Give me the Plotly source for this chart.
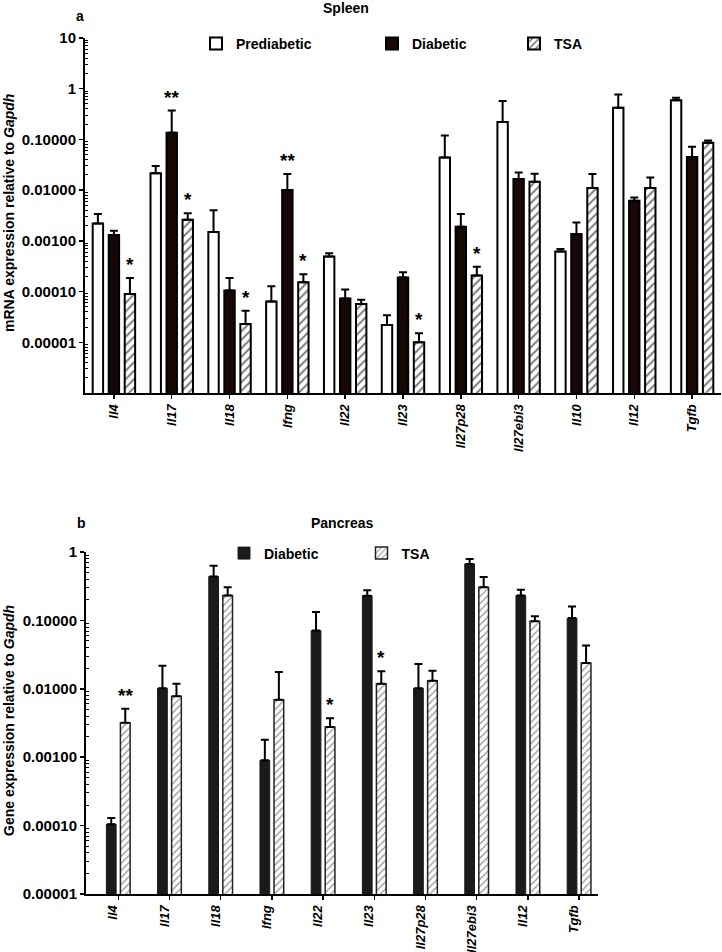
import math
import plotly.graph_objects as go

# ---------------- data ----------------
spleen_genes = ["Il4", "Il17", "Il18", "Ifng", "Il22", "Il23", "Il27p28", "Il27ebi3", "Il10", "Il12", "Tgfb"]
spleen_prediabetic = [0.0022, 0.0216, 0.0015, 6.4e-5, 4.9e-4, 2.2e-5, 0.044, 0.22, 6.2e-4, 0.42, 0.59]
spleen_prediabetic_sem = [0.0012, 0.0084, 0.0025, 6.3e-5, 8e-5, 1.2e-5, 0.076, 0.35, 7e-5, 0.35, 0.07]
spleen_diabetic = [0.0013, 0.135, 1.05e-4, 0.0101, 7.3e-5, 1.9e-4, 0.0019, 0.0165, 0.00136, 0.0062, 0.045]
spleen_diabetic_sem = [0.00028, 0.235, 8.1e-5, 0.0106, 3.7e-5, 5e-5, 0.0015, 0.0059, 0.00094, 0.001, 0.027]
spleen_tsa = [9.0e-5, 0.0026, 2.3e-5, 1.52e-4, 5.7e-5, 1.0e-5, 2.07e-4, 0.0146, 0.011, 0.011, 0.086]
spleen_tsa_sem = [9.6e-5, 0.0009, 1.9e-5, 6.8e-5, 1.2e-5, 5e-6, 1.03e-4, 0.0064, 0.0097, 0.0068, 0.009]
spleen_diabetic_sig = ["", "**", "", "**", "", "", "", "", "", "", ""]
spleen_tsa_sig = ["*", "*", "*", "*", "", "*", "*", "", "", "", ""]

pancreas_genes = ["Il4", "Il17", "Il18", "Ifng", "Il22", "Il23", "Il27p28", "Il27ebi3", "Il12", "Tgfb"]
pancreas_diabetic = [1.05e-4, 0.0102, 0.44, 9.0e-4, 0.071, 0.23, 0.0102, 0.67, 0.232, 0.108]
pancreas_diabetic_sem = [2.4e-5, 0.0116, 0.19, 9e-4, 0.062, 0.045, 0.0128, 0.12, 0.048, 0.052]
pancreas_tsa = [0.0032, 0.0078, 0.232, 0.0069, 0.00276, 0.0119, 0.0131, 0.304, 0.097, 0.0238]
pancreas_tsa_sem = [0.0019, 0.0041, 0.072, 0.0107, 0.00094, 0.0061, 0.0053, 0.126, 0.018, 0.0192]
pancreas_tsa_sig = ["**", "", "", "", "*", "*", "", "", "", ""]

spleen_ticks = [10, 1, 0.1, 0.01, 0.001, 0.0001, 0.00001]
spleen_ticktext = ["10", "1", "0.10000", "0.01000", "0.00100", "0.00010", "0.00001"]
pancreas_ticks = [1, 0.1, 0.01, 0.001, 0.0001, 0.00001]
pancreas_ticktext = ["1", "0.10000", "0.01000", "0.00100", "0.00010", "0.00001"]

# ---------------- figure ----------------
W, H = 722, 952
FONT = "Liberation Sans, Arial, Helvetica, sans-serif"

def px_x(p):
    return p / W

def px_y(p):
    return 1 - p / H

fig = go.Figure()

bw1 = 0.18
step1 = 0.277
hatch_top = dict(shape="/", fgcolor="black", bgcolor="white", size=6, solidity=0.35)
hatch_bot = dict(shape="/", fgcolor="#333333", bgcolor="white", size=5, solidity=0.28)


def err(sem):
    return dict(type="data", symmetric=False, array=sem, arrayminus=[0] * len(sem),
                color="black", thickness=2, width=4)

fig.add_trace(go.Bar(x=spleen_genes, y=spleen_prediabetic, name="Prediabetic",
                     width=bw1, offset=-step1 - bw1 / 2,
                     marker=dict(color="white", line=dict(color="black", width=2)),
                     error_y=err(spleen_prediabetic_sem), xaxis="x", yaxis="y",
                     legend="legend"))
fig.add_trace(go.Bar(x=spleen_genes, y=spleen_diabetic, name="Diabetic",
                     width=bw1, offset=-bw1 / 2,
                     marker=dict(color="#170707", line=dict(color="black", width=2)),
                     error_y=err(spleen_diabetic_sem), xaxis="x", yaxis="y",
                     legend="legend2"))
fig.add_trace(go.Bar(x=spleen_genes, y=spleen_tsa, name="TSA",
                     width=bw1, offset=step1 - bw1 / 2,
                     marker=dict(color="white", pattern=hatch_top, line=dict(color="black", width=2)),
                     error_y=err(spleen_tsa_sem), xaxis="x", yaxis="y",
                     legend="legend3"))

bw2 = 0.19
step2 = 0.137
fig.add_trace(go.Bar(x=pancreas_genes, y=pancreas_diabetic, name="Diabetic",
                     width=bw2, offset=-step2 - bw2 / 2,
                     marker=dict(color="#1a1a1a", line=dict(color="#1a1a1a", width=1)),
                     error_y=err(pancreas_diabetic_sem), xaxis="x2", yaxis="y2",
                     legend="legend4"))
fig.add_trace(go.Bar(x=pancreas_genes, y=pancreas_tsa, name="TSA",
                     width=bw2, offset=step2 - bw2 / 2,
                     marker=dict(color="white", pattern=hatch_bot, line=dict(color="#222222", width=1.5)),
                     error_y=err(pancreas_tsa_sem), xaxis="x2", yaxis="y2",
                     legend="legend5"))

annotations = []

def add_stars(genes, vals, sems, sigs, shift_px, xref, yref):
    for g, v, s, sig in zip(genes, vals, sems, sigs):
        if sig:
            annotations.append(dict(x=g, y=math.log10(v + s), xref=xref, yref=yref,
                                    text=sig, showarrow=False, xanchor="center", yanchor="bottom",
                                    xshift=shift_px, yshift=1,
                                    font=dict(family=FONT, size=19, color="black", weight="bold")))

add_stars(spleen_genes, spleen_diabetic, spleen_diabetic_sem, spleen_diabetic_sig, 0, "x", "y")
add_stars(spleen_genes, spleen_tsa, spleen_tsa_sem, spleen_tsa_sig, step1 * 57.8, "x", "y")
add_stars(pancreas_genes, pancreas_tsa, pancreas_tsa_sem, pancreas_tsa_sig, step2 * 51.2, "x2", "y2")

bold14 = dict(family=FONT, size=14, color="black", weight="bold")

def label(text, xp, yp, angle=0, font=bold14):
    return dict(text=text, x=px_x(xp), y=px_y(yp), xref="paper", yref="paper", showarrow=False,
                xanchor="center", yanchor="middle", textangle=angle, font=font)

annotations += [
    label("Spleen", 346, 8),
    label("a", 80, 16),
    label("Pancreas", 342, 523),
    label("b", 81, 523),
    label("mRNA expression relative to <i>Gapdh</i>", 9, 213, -90),
    label("Gene expression relative to <i>Gapdh</i>", 9, 721, -90),
]

tickfont_y = dict(family=FONT, size=15, color="black", weight="bold")
tickfont_x = dict(family=FONT, size=13, color="black", weight="bold", style="italic")

minor1 = [d * 10 ** k for k in range(-6, 1) for d in range(2, 10)]
minor2 = [d * 10 ** k for k in range(-5, 0) for d in range(2, 10)]

leg_font = dict(family=FONT, size=14, color="black", weight="bold")

def legend_at(xp, yp):
    return dict(x=px_x(xp), y=px_y(yp), xanchor="left", yanchor="middle",
                bgcolor="rgba(0,0,0,0)", font=leg_font, orientation="h",
                itemclick=False, itemdoubleclick=False)

common_x = dict(showline=True, linecolor="black", linewidth=2, ticks="outside", ticklen=4,
                tickcolor="black", tickwidth=1.5, tickangle=-90, tickfont=tickfont_x,
                showgrid=False, zeroline=False, fixedrange=True, automargin=False)
common_y = dict(type="log", tickmode="array", showline=True, linecolor="black", linewidth=2,
                ticks="outside", ticklen=4, tickcolor="black", tickwidth=1.5, tickfont=tickfont_y,
                showgrid=False, zeroline=False, fixedrange=True, automargin=False)

fig.update_layout(
    width=W, height=H,
    margin=dict(l=0, r=0, t=0, b=0, autoexpand=False),
    paper_bgcolor="white", plot_bgcolor="white",
    barmode="group",
    showlegend=True,
    legend=legend_at(196, 44),
    legend2=legend_at(372, 44),
    legend3=legend_at(514, 44),
    legend4=legend_at(224, 553.5),
    legend5=legend_at(361.5, 553.5),
    xaxis=dict(domain=[px_x(85), px_x(721)], anchor="y", range=[-0.5, 10.5], **common_x),
    yaxis=dict(domain=[px_y(393), px_y(38)], anchor="x", range=[-6, 1],
               tickvals=spleen_ticks, ticktext=spleen_ticktext,
               minor=dict(tickmode="array", tickvals=minor1, ticks="inside", ticklen=3,
                          tickcolor="black", tickwidth=1, showgrid=False),
               **common_y),
    xaxis2=dict(domain=[px_x(86), px_x(598)], anchor="y2", range=[-0.63, 9.37],
                ticklabelshift=-5, **common_x),
    yaxis2=dict(domain=[px_y(894), px_y(552)], anchor="x2", range=[-5, 0],
                tickvals=pancreas_ticks, ticktext=pancreas_ticktext,
                minor=dict(tickmode="array", tickvals=minor2, ticks="inside", ticklen=3,
                           tickcolor="black", tickwidth=1, showgrid=False),
                **common_y),
    annotations=annotations,
)

fig.write_html("out.html", config={"displayModeBar": False, "staticPlot": True},
               post_script="document.body.style.margin='0';document.body.style.padding='0';"
                           "document.documentElement.style.overflow='hidden';")
